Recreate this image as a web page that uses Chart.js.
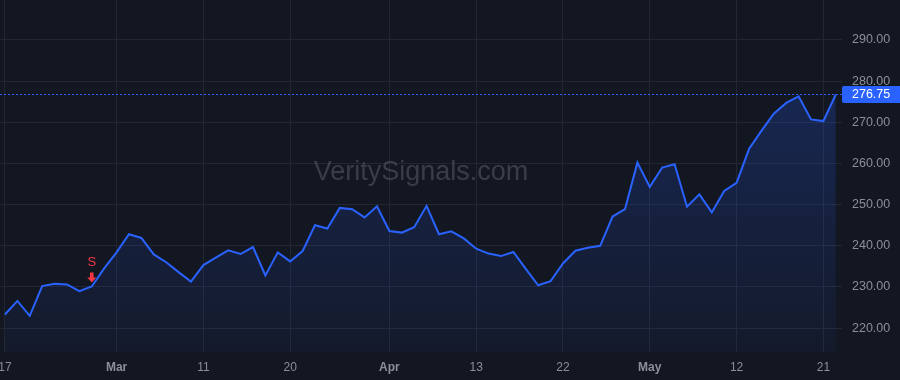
<!DOCTYPE html>
<html>
<head>
<meta charset="utf-8">
<script src="https://cdn.jsdelivr.net/npm/chart.js@4/dist/chart.umd.min.js"></script>
<style>
html,body{margin:0;padding:0;background:#131722;}
#wrap{width:900px;height:380px;position:relative;}
</style>
</head>
<body>
<div id="wrap"><canvas id="c" width="900" height="380"></canvas></div>
<script>
// Daily closes (trading sessions), index 0 = Feb 17
const closes = [
  223.3, 226.6, 223.0, 230.2, 230.8, 230.6, 229.0, 230.1, 234.5, 238.4,
  242.8, 241.9, 237.9, 236.0, 233.6, 231.3, 235.3, 237.1, 238.9, 238.0,
  239.7, 232.8, 238.4, 236.2, 238.7, 245.0, 244.2, 249.2, 248.9, 246.9,
  249.6, 243.6, 243.2, 244.5, 249.7, 242.8, 243.5, 241.8, 239.3, 238.1,
  237.5, 238.5, 234.4, 230.4, 231.4, 235.7, 238.8, 239.5, 240.0, 247.1,
  248.9, 260.2, 254.3, 259.0, 259.8, 249.5, 252.5, 248.1, 253.3, 255.3,
  263.5, 267.9, 272.1, 274.7, 276.3, 270.7, 270.3, 276.75
];
// x-axis tick labels and the session index they sit on
const tickIndexes = [0, 9, 16, 23, 31, 38, 45, 52, 59, 66];
const tickLabels  = ['17', 'Mar', '11', '20', 'Apr', '13', '22', 'May', '12', '21'];
const monthLabels = ['Mar', 'Apr', 'May'];
// y-axis tick values
const priceTicks = [220, 230, 240, 250, 260, 270, 280, 290];
// signal marker
const signalIndex = 7;
const signalText = 'S';
const lastPrice = closes[closes.length - 1];
const watermark = 'VeritySignals.com';

const FONT = '"Liberation Sans", Arial, sans-serif';
const BG = '#131722';
const GRID = '#232733';
const TXT = '#8c8f98';
const BLUE = '#2962ff';
const RED = '#f23645';

const points = closes.map((v, i) => ({x: i, y: v}));

const bgPlugin = {
  id: 'bg',
  beforeDraw(chart) {
    const ctx = chart.ctx;
    ctx.save();
    ctx.fillStyle = BG;
    ctx.fillRect(0, 0, chart.width, chart.height);
    ctx.restore();
  }
};

const watermarkPlugin = {
  id: 'wm',
  beforeDatasetsDraw(chart) {
    const {ctx, chartArea} = chart;
    ctx.save();
    ctx.font = '27px ' + FONT;
    ctx.fillStyle = 'rgba(120,123,134,0.38)';
    ctx.textAlign = 'center';
    ctx.textBaseline = 'middle';
    ctx.fillText(watermark, (chartArea.left + chartArea.right) / 2, (chartArea.top + chartArea.bottom) / 2 - 3);
    ctx.restore();
  }
};

const overlayPlugin = {
  id: 'overlay',
  afterDatasetsDraw(chart) {
    const {ctx, chartArea, scales} = chart;
    const xs = scales.x, ys = scales.y;
    // price line
    const py = Math.round(ys.getPixelForValue(lastPrice)) + 0.5;
    ctx.save();
    ctx.strokeStyle = BLUE;
    ctx.lineWidth = 1;
    ctx.setLineDash([2, 2]);
    ctx.beginPath();
    ctx.moveTo(chartArea.left, py);
    ctx.lineTo(chartArea.right, py);
    ctx.stroke();
    ctx.setLineDash([]);
    // price label
    const bx = chartArea.right, bw = chart.width - chartArea.right + 4, bh = 17;
    ctx.fillStyle = BLUE;
    ctx.beginPath();
    if (ctx.roundRect) ctx.roundRect(bx, py - bh / 2, bw, bh, 2); else ctx.rect(bx, py - bh / 2, bw, bh);
    ctx.fill();
    ctx.fillStyle = '#ffffff';
    ctx.font = '12.5px ' + FONT;
    ctx.textAlign = 'left';
    ctx.textBaseline = 'middle';
    ctx.fillText(lastPrice.toFixed(2), chartArea.right + 10, py + 0.5);
    // signal marker
    const sx = xs.getPixelForValue(signalIndex);
    const sy = ys.getPixelForValue(closes[signalIndex]);
    const tipY = sy - 4;
    ctx.fillStyle = RED;
    ctx.beginPath();
    ctx.moveTo(sx - 1.8, tipY - 10);
    ctx.lineTo(sx + 1.8, tipY - 10);
    ctx.lineTo(sx + 1.8, tipY - 5);
    ctx.lineTo(sx + 4.5, tipY - 5);
    ctx.lineTo(sx, tipY);
    ctx.lineTo(sx - 4.5, tipY - 5);
    ctx.lineTo(sx - 1.8, tipY - 5);
    ctx.closePath();
    ctx.fill();
    ctx.font = '13px ' + FONT;
    ctx.textAlign = 'center';
    ctx.textBaseline = 'middle';
    ctx.fillText(signalText, sx, tipY - 20);
    ctx.restore();
  }
};

new Chart(document.getElementById('c'), {
  type: 'line',
  data: {
    datasets: [{
      data: points,
      borderColor: BLUE,
      borderWidth: 2,
      pointRadius: 0,
      tension: 0,
      fill: 'start',
      backgroundColor(context) {
        const chart = context.chart;
        const ca = chart.chartArea;
        if (!ca) return 'rgba(41,98,255,0.15)';
        const g = chart.ctx.createLinearGradient(0, ca.top, 0, ca.bottom);
        g.addColorStop(0, 'rgba(41,98,255,0.28)');
        g.addColorStop(1, 'rgba(41,98,255,0.04)');
        return g;
      }
    }]
  },
  options: {
    responsive: false,
    animation: false,
    layout: {padding: 0},
    plugins: {legend: {display: false}, tooltip: {enabled: false}},
    scales: {
      x: {
        type: 'linear',
        min: -0.4,
        max: 67.5,
        afterBuildTicks(scale) { scale.ticks = tickIndexes.map(v => ({value: v})); },
        afterFit(scale) {
          scale.height = 28;
          scale.paddingLeft = 0; scale.paddingRight = 0;
          scale.paddingTop = 0; scale.paddingBottom = 0;
        },
        grid: {color: GRID, drawTicks: false},
        border: {display: false},
        ticks: {
          color: TXT,
          padding: 8,
          maxRotation: 0,
          autoSkip: false,
          font(ctx) {
            const lbl = tickLabels[tickIndexes.indexOf(ctx.tick && ctx.tick.value)];
            return {family: FONT, size: 12, weight: monthLabels.includes(lbl) ? 'bold' : 'normal'};
          },
          callback(v) {
            const k = tickIndexes.indexOf(v);
            return k >= 0 ? tickLabels[k] : '';
          }
        }
      },
      y: {
        position: 'right',
        min: 214.2,
        max: 299.7,
        afterBuildTicks(scale) { scale.ticks = priceTicks.map(v => ({value: v})); },
        afterFit(scale) {
          scale.width = 58;
          scale.paddingLeft = 0; scale.paddingRight = 0;
          scale.paddingTop = 0; scale.paddingBottom = 0;
        },
        grid: {color: GRID, drawTicks: false},
        border: {display: false},
        ticks: {
          color: TXT,
          padding: 10,
          font: {family: FONT, size: 12.5},
          callback(v) { return Number(v).toFixed(2); }
        }
      }
    }
  },
  plugins: [bgPlugin, watermarkPlugin, overlayPlugin]
});
</script>
</body>
</html>
